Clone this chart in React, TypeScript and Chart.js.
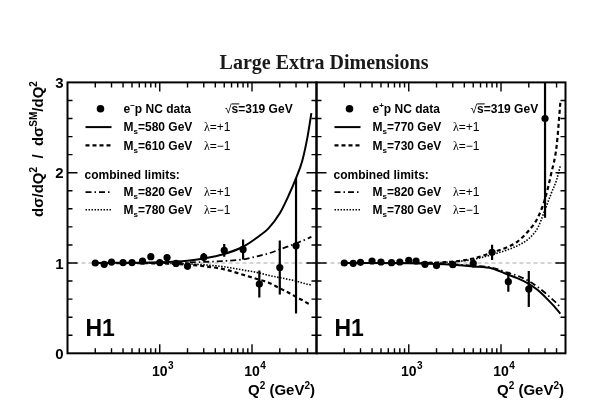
import { useEffect, useRef } from 'react';
import Chart from 'chart.js/auto';

const SANS = '"Liberation Sans", Arial, Helvetica, sans-serif';
const SERIF = '"Liberation Serif", "Times New Roman", serif';

// Q^2 bin centres of the NC measurement (GeV^2)
const Q2_BINS = [200, 250, 300, 400, 500, 650, 800, 1000, 1200, 1500, 2000, 3000, 5000, 8000, 12000, 20000, 30000];

// e-p data / SM and errors
const EM_RATIO = [1.0, 0.985, 1.01, 1.005, 1.005, 1.02, 1.07, 1.005, 1.06, 0.995, 0.965, 1.065, 1.14, 1.15, 0.767, 0.95, 1.19];
const EM_ERR = [0.015, 0.015, 0.015, 0.015, 0.015, 0.018, 0.025, 0.022, 0.03, 0.03, 0.04, 0.045, 0.07, 0.11, 0.15, 0.3, 0.75];

// e+p data / SM and errors
const EP_RATIO = [1.0, 0.996, 1.007, 1.022, 1.011, 1.004, 1.011, 1.03, 1.022, 0.985, 0.972, 0.982, 0.996, 1.118, 0.793, 0.712, 2.6];
const EP_ERR = [0.015, 0.015, 0.015, 0.015, 0.015, 0.018, 0.02, 0.025, 0.025, 0.025, 0.03, 0.03, 0.045, 0.085, 0.11, 0.2, 1.1];

// model curves, sampled in Q^2
const CURVE_Q2 = [200, 1000, 2000, 3000, 5000, 8000, 12000, 15000, 20000, 25000, 30000, 35000, 40000, 44000];
const EM_MS580_PLUS = [1.0, 1.008, 1.025, 1.05, 1.1, 1.18, 1.3, 1.38, 1.55, 1.75, 1.94, 2.13, 2.4, 2.66];
const EM_MS610_MINUS = [1.0, 0.995, 0.982, 0.965, 0.93, 0.87, 0.815, 0.785, 0.72, 0.67, 0.625, 0.59, 0.555, 0.535];
const EM_MS820_PLUS = [1.0, 1.002, 1.006, 1.012, 1.022, 1.04, 1.08, 1.105, 1.15, 1.185, 1.218, 1.245, 1.27, 1.29];
const EM_MS780_MINUS = [1.0, 0.998, 0.99, 0.98, 0.958, 0.922, 0.89, 0.864, 0.838, 0.818, 0.8, 0.78, 0.765, 0.756];
const EP_MS770_PLUS = [1.0, 0.998, 0.99, 0.98, 0.962, 0.94, 0.87, 0.833, 0.77, 0.7, 0.625, 0.555, 0.49, 0.44];
const EP_MS730_MINUS = [1.0, 1.0, 1.005, 1.015, 1.05, 1.115, 1.18, 1.235, 1.36, 1.5, 1.71, 1.99, 2.29, 2.78];
const EP_MS820_PLUS = [1.0, 0.999, 0.993, 0.985, 0.97, 0.948, 0.89, 0.86, 0.8, 0.735, 0.67, 0.61, 0.555, 0.51];
const EP_MS780_MINUS = [1.0, 1.0, 1.004, 1.012, 1.04, 1.092, 1.15, 1.19, 1.27, 1.39, 1.59, 1.77, 1.92, 2.08];

// legend texts
const EM_MASSES = ['580', '610', '820', '780'];
const EP_MASSES = ['770', '730', '820', '780'];
const LAMBDAS = ['+1', '\u22121', '+1', '\u22121'];

// axes
const X_MIN = 100;
const X_MAX = 50000;
const X_DECADES = [1000, 10000];
const X_EXPONENTS = ['3', '4'];
const Y_LABELS = [0, 1, 2, 3];

const CURVE_DASH = [[], [4, 3], [6, 3, 1.5, 3], [1.5, 1.5]];
const CURVE_WIDTH = [2, 2.2, 1.8, 1.6];

type Run = { t: string; size: number; dy?: number; weight?: string; family?: string; bar?: boolean };

function drawRuns(ctx: CanvasRenderingContext2D, runs: Run[], x: number, y: number, align = 'left') {
  const font = (r: Run) => `${r.weight ?? 'bold'} ${r.size}px ${r.family ?? SANS}`;
  const widths = runs.map((r) => {
    ctx.font = font(r);
    return ctx.measureText(r.t).width;
  });
  const total = widths.reduce((a, b) => a + b, 0);
  let cx = align === 'center' ? x - total / 2 : align === 'right' ? x - total : x;
  ctx.textAlign = 'left';
  ctx.textBaseline = 'alphabetic';
  runs.forEach((r, i) => {
    ctx.font = font(r);
    ctx.fillText(r.t, cx, y + (r.dy ?? 0));
    if (r.bar) ctx.fillRect(cx, y - r.size * 0.8, widths[i] + 1, 1);
    cx += widths[i];
  });
}

function xTickValues() {
  const out: number[] = [];
  for (let d = 100; d < X_MAX; d *= 10) {
    for (let m = 1; m <= 9; m++) {
      const v = m * d;
      if (v > X_MIN && v < X_MAX) out.push(v);
    }
  }
  return out;
}

function decorPlugin(lepton: string, masses: string[], sqrtX: number, isLeft: boolean) {
  return {
    id: 'panelDecor',
    beforeDatasetsDraw(chart: any) {
      const { left, right } = chart.chartArea;
      const y1 = chart.scales.y.getPixelForValue(1);
      const ctx = chart.ctx as CanvasRenderingContext2D;
      ctx.save();
      ctx.strokeStyle = '#a8a8a8';
      ctx.lineWidth = 1;
      ctx.setLineDash([4, 3]);
      ctx.beginPath();
      ctx.moveTo(left, y1);
      ctx.lineTo(right, y1);
      ctx.stroke();
      ctx.restore();
    },
    afterDatasetsDraw(chart: any) {
      const ctx = chart.ctx as CanvasRenderingContext2D;
      const { left, right, top, bottom } = chart.chartArea;
      const xs = chart.scales.x;
      const ys = chart.scales.y;
      ctx.save();
      ctx.strokeStyle = '#000';
      ctx.fillStyle = '#000';
      ctx.setLineDash([]);

      // inward ticks
      ctx.lineWidth = 1.4;
      ctx.beginPath();
      xTickValues().forEach((v) => {
        const px = xs.getPixelForValue(v);
        const len = X_DECADES.includes(v) ? 9 : 5;
        ctx.moveTo(px, bottom);
        ctx.lineTo(px, bottom - len);
        ctx.moveTo(px, top);
        ctx.lineTo(px, top + len);
      });
      for (let k = 1; k < 15; k++) {
        const v = k * 0.2;
        const py = ys.getPixelForValue(v);
        const len = k % 5 === 0 ? 10 : 5;
        ctx.moveTo(left, py);
        ctx.lineTo(left + len, py);
        ctx.moveTo(right, py);
        ctx.lineTo(right - len, py);
      }
      ctx.stroke();
      ctx.lineWidth = 2;
      ctx.strokeRect(left, top, right - left, bottom - top);

      // x tick labels
      X_DECADES.forEach((v, i) => {
        const px = xs.getPixelForValue(v);
        ctx.font = `bold 14px ${SANS}`;
        const w = ctx.measureText('10').width;
        drawRuns(ctx, [{ t: '10', size: 14 }], px - w / 2, bottom + 23);
        drawRuns(ctx, [{ t: X_EXPONENTS[i], size: 10 }], px + w / 2 + 0.5, bottom + 16);
      });

      // axis title
      drawRuns(
        ctx,
        [
          { t: 'Q', size: 15 },
          { t: '2', size: 10, dy: -6 },
          { t: ' (GeV', size: 15 },
          { t: '2', size: 10, dy: -6 },
          { t: ')', size: 15 },
        ],
        right - 1.5,
        bottom + 42,
        'right'
      );

      // H1
      drawRuns(ctx, [{ t: 'H1', size: 23 }], left + 18, bottom - 17);

      // legend
      const rows = [26.3, 44.7, 63, 92, 109.7, 127.3].map((d) => top + d);
      ctx.beginPath();
      ctx.arc(left + 33, rows[0], 3.8, 0, Math.PI * 2);
      ctx.fill();
      drawRuns(ctx, [{ t: 'e', size: 12 }, { t: lepton, size: 8, dy: -5 }, { t: 'p NC data', size: 12 }], left + 56, rows[0] + 4.3);
      drawRuns(
        ctx,
        [{ t: '\u221a', size: 12, weight: 'normal' }, { t: 's', size: 12, bar: true }, { t: '=319 GeV', size: 12 }],
        left + sqrtX,
        rows[0] + 4.3
      );
      [rows[1], rows[2], rows[4], rows[5]].forEach((ry, i) => {
        ctx.save();
        ctx.setLineDash(CURVE_DASH[i]);
        ctx.lineWidth = CURVE_WIDTH[i];
        ctx.beginPath();
        ctx.moveTo(left + 18, ry);
        ctx.lineTo(left + 44, ry);
        ctx.stroke();
        ctx.restore();
        drawRuns(ctx, [{ t: 'M', size: 12 }, { t: 's', size: 8, dy: 3 }, { t: '=' + masses[i] + ' GeV', size: 12 }], left + 56, ry + 4.3);
        drawRuns(
          ctx,
          [
            { t: '\u03bb', size: 12, weight: 'normal', family: SERIF },
            { t: '=' + LAMBDAS[i], size: 12, weight: 'normal' },
          ],
          left + 136.5,
          ry + 4.3
        );
      });
      drawRuns(ctx, [{ t: 'combined limits:', size: 12 }], left + 17, rows[3] + 4.3);

      if (isLeft) {
        // y tick labels
        Y_LABELS.forEach((v) => {
          drawRuns(ctx, [{ t: String(v), size: 15 }], left - 4, ys.getPixelForValue(v) + 5.5, 'right');
        });
        // title
        ctx.fillStyle = '#1a1a1a';
        drawRuns(ctx, [{ t: 'Large Extra Dimensions', size: 20, family: SERIF }], 324, 69, 'center');
        ctx.fillStyle = '#000';
        // y axis title
        ctx.save();
        ctx.translate(43, 149);
        ctx.rotate(-Math.PI / 2);
        drawRuns(
          ctx,
          [
            { t: 'd\u03c3/dQ', size: 15 },
            { t: '2', size: 10, dy: -6 },
            { t: '  /  d\u03c3', size: 15 },
            { t: 'SM', size: 10, dy: -6 },
            { t: '/dQ', size: 15 },
            { t: '2', size: 10, dy: -6 },
          ],
          0,
          0,
          'center'
        );
        ctx.restore();
      }
      ctx.restore();
    },
  };
}

function curve(q: number[], r: number[], i: number) {
  return {
    data: q.map((x, k) => ({ x, y: r[k] })),
    borderColor: '#000',
    borderWidth: CURVE_WIDTH[i],
    borderDash: CURVE_DASH[i],
    pointRadius: 0,
    cubicInterpolationMode: 'monotone' as const,
    fill: false,
  };
}

function makeChart(
  canvas: HTMLCanvasElement,
  ratio: number[],
  err: number[],
  curves: number[][],
  padLeft: number,
  padRight: number,
  plugin: any
) {
  const bars = Q2_BINS.flatMap((x, k) => [
    { x, y: ratio[k] - err[k] },
    { x, y: ratio[k] + err[k] },
    { x, y: null },
  ]);
  return new Chart(canvas, {
    type: 'line',
    data: {
      datasets: [
        {
          data: Q2_BINS.map((x, k) => ({ x, y: ratio[k] })),
          showLine: false,
          pointRadius: 3.6,
          pointBackgroundColor: '#000',
          pointBorderColor: '#000',
          pointBorderWidth: 0,
        },
        {
          data: bars as any,
          borderColor: '#000',
          borderWidth: 2.2,
          pointRadius: 0,
          spanGaps: false,
          borderCapStyle: 'butt',
        },
        ...curves.map((r, i) => curve(CURVE_Q2, r, i)),
      ],
    },
    options: {
      animation: false,
      responsive: false,
      events: [],
      layout: { padding: { left: padLeft, right: padRight, top: 82.4, bottom: 57.7 } },
      plugins: { legend: { display: false }, tooltip: { enabled: false } },
      scales: {
        x: { type: 'logarithmic', min: X_MIN, max: X_MAX, display: false },
        y: { type: 'linear', min: 0, max: 3, display: false },
      },
    },
    plugins: [plugin],
  });
}

export default function App() {
  const leftRef = useRef<HTMLCanvasElement>(null);
  const rightRef = useRef<HTMLCanvasElement>(null);

  useEffect(() => {
    if (!leftRef.current || !rightRef.current) return;
    const left = makeChart(
      leftRef.current,
      EM_RATIO,
      EM_ERR,
      [EM_MS580_PLUS, EM_MS610_MINUS, EM_MS820_PLUS, EM_MS780_MINUS],
      67.5,
      610 - 316.5,
      decorPlugin('\u2212', EM_MASSES, 157.5, true)
    );
    const right = makeChart(
      rightRef.current,
      EP_RATIO,
      EP_ERR,
      [EP_MS770_PLUS, EP_MS730_MINUS, EP_MS820_PLUS, EP_MS780_MINUS],
      316.5,
      610 - 565.5,
      decorPlugin('+', EP_MASSES, 154, false)
    );
    return () => {
      left.destroy();
      right.destroy();
    };
  }, []);

  const canvasStyle = { position: 'absolute' as const, left: 0, top: 0, width: 610, height: 411 };
  return (
    <div style={{ position: 'absolute', left: 0, top: 0, width: 610, height: 411, background: '#fff' }}>
      <canvas ref={leftRef} width={610} height={411} style={canvasStyle} />
      <canvas ref={rightRef} width={610} height={411} style={canvasStyle} />
    </div>
  );
}
